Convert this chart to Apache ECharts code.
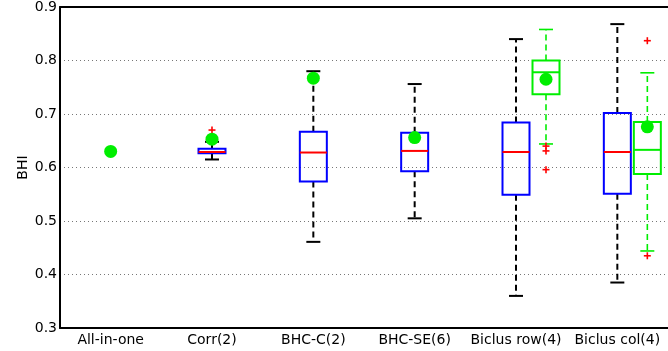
<!DOCTYPE html>
<html>
<head>
<meta charset="utf-8">
<script src="https://cdn.jsdelivr.net/npm/echarts@6/dist/echarts.min.js"></script>
<style>
html,body{margin:0;padding:0;background:#fff;}
#chart{width:668px;height:351px;}
</style>
</head>
<body>
<div id="chart"></div>
<script>
// ---- data ----
const categories = ['All-in-one', 'Corr(2)', 'BHC-C(2)', 'BHC-SE(6)', 'Biclus row(4)', 'Biclus col(4)'];
// [lower whisker, q1, median, q3, upper whisker]
const blueBoxes = [
  null,
  [0.615, 0.6265, 0.629, 0.635, 0.648],
  [0.461, 0.574, 0.628, 0.667, 0.780],
  [0.505, 0.593, 0.631, 0.665, 0.756],
  [0.360, 0.549, 0.629, 0.684, 0.840],
  [0.385, 0.551, 0.629, 0.702, 0.868]
];
const greenBoxes = [
  null, null, null, null,
  [0.644, 0.737, 0.778, 0.800, 0.858],
  [0.444, 0.588, 0.633, 0.685, 0.777]
];
const blueOutliers = [[], [0.670], [], [], [], []];
const greenOutliers = [[], [], [], [], [0.640, 0.631, 0.596], [0.837, 0.435]];
const meanValues = [0.630, 0.653, 0.767, 0.656, 0.765, 0.676];
const yTicks = [0.3, 0.4, 0.5, 0.6, 0.7, 0.8, 0.9];

// ---- build ----
const GREEN_OFFSET = 30;
function boxData(arr) {
  const out = [];
  arr.forEach((b, i) => { if (b) out.push([i].concat(b)); });
  return out;
}
function outlierData(arr) {
  const out = [];
  arr.forEach((list, i) => list.forEach(v => out.push([i, v])));
  return out;
}
function boxRenderer(boxColor, medianColor, whiskerColor, whiskerWidth, offset) {
  return function (params, api) {
    const c = api.value(0);
    const x = api.coord([c, 0.6])[0] + offset;
    const y = v => api.coord([c, v])[1];
    const lo = y(api.value(1)), q1 = y(api.value(2)), md = y(api.value(3)), q3 = y(api.value(4)), hi = y(api.value(5));
    const hw = 13.5, cw = 7;
    const dash = { stroke: whiskerColor, lineWidth: whiskerWidth, lineDash: [6, 4] };
    const solid = { stroke: whiskerColor, lineWidth: whiskerWidth };
    return {
      type: 'group',
      children: [
        { type: 'line', shape: { x1: x, y1: q3, x2: x, y2: hi }, style: dash },
        { type: 'line', shape: { x1: x, y1: q1, x2: x, y2: lo }, style: dash },
        { type: 'line', shape: { x1: x - cw, y1: hi, x2: x + cw, y2: hi }, style: solid },
        { type: 'line', shape: { x1: x - cw, y1: lo, x2: x + cw, y2: lo }, style: solid },
        { type: 'rect', shape: { x: x - hw, y: q3, width: 2 * hw, height: q1 - q3 }, style: { fill: 'rgba(255,255,255,0)', stroke: boxColor, lineWidth: 2 } },
        { type: 'line', shape: { x1: x - hw, y1: md, x2: x + hw, y2: md }, style: { stroke: medianColor, lineWidth: 2 } }
      ]
    };
  };
}
function plusRenderer(offset) {
  return function (params, api) {
    const p = api.coord([api.value(0), api.value(1)]);
    const x = p[0] + offset, yy = p[1], s = 3.5;
    const st = { stroke: '#ff0000', lineWidth: 1.6 };
    return {
      type: 'group',
      children: [
        { type: 'line', shape: { x1: x - s, y1: yy, x2: x + s, y2: yy }, style: st },
        { type: 'line', shape: { x1: x, y1: yy - s, x2: x, y2: yy + s }, style: st }
      ]
    };
  };
}
const meanCenter = [], meanGreen = [];
meanValues.forEach((v, i) => { (greenBoxes[i] ? meanGreen : meanCenter).push([i, v]); });

const chart = echarts.init(document.getElementById('chart'));
const axisFont = { color: '#000', fontFamily: 'DejaVu Sans, sans-serif', fontSize: 14 };
chart.setOption({
  animation: false,
  backgroundColor: '#fff',
  grid: { left: 60, top: 7, width: 618, height: 321, containLabel: false },
  xAxis: [
    {
      type: 'category', data: categories, position: 'bottom',
      axisLine: { lineStyle: { color: '#000', width: 2 } },
      axisTick: { show: false },
      axisLabel: Object.assign({ margin: 5, interval: 0 }, axisFont),
      splitLine: { show: false }
    },
    {
      type: 'category', data: categories, position: 'top',
      axisLine: { lineStyle: { color: '#000', width: 2 } },
      axisTick: { show: false }, axisLabel: { show: false }, splitLine: { show: false }
    }
  ],
  yAxis: {
    type: 'value', min: yTicks[0], max: yTicks[yTicks.length - 1], interval: 0.1,
    name: 'BHI', nameLocation: 'middle', nameGap: 30, nameRotate: 90, nameMoveOverlap: false,
    nameTextStyle: axisFont,
    axisLine: { show: true, lineStyle: { color: '#000', width: 2 } },
    axisTick: { show: false },
    axisLabel: Object.assign({ margin: 3, formatter: v => v.toFixed(1) }, axisFont),
    splitLine: { show: true, lineStyle: { color: '#777', type: [1, 3], width: 1 } }
  },
  series: [
    { type: 'custom', renderItem: boxRenderer('#0000ff', '#ff0000', '#000', 2, 0), data: boxData(blueBoxes), encode: { x: 0, y: [1, 2, 3, 4, 5] } },
    { type: 'custom', renderItem: boxRenderer('#00ee00', '#00ee00', '#00ee00', 1.6, GREEN_OFFSET), data: boxData(greenBoxes), encode: { x: 0, y: [1, 2, 3, 4, 5] } },
    { type: 'custom', renderItem: plusRenderer(0), data: outlierData(blueOutliers), encode: { x: 0, y: 1 } },
    { type: 'custom', renderItem: plusRenderer(GREEN_OFFSET), data: outlierData(greenOutliers), encode: { x: 0, y: 1 } },
    { type: 'scatter', data: meanCenter, symbol: 'circle', symbolSize: 13, itemStyle: { color: '#00ee00', opacity: 1 }, z: 5 },
    { type: 'scatter', data: meanGreen, symbol: 'circle', symbolSize: 13, symbolOffset: [GREEN_OFFSET, 0], itemStyle: { color: '#00ee00', opacity: 1 }, z: 5 }
  ]
});
</script>
</body>
</html>
